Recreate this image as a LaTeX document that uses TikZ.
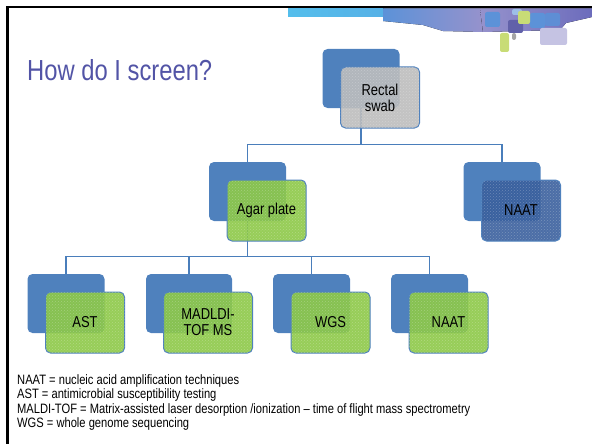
\documentclass[tikz,border=0pt]{standalone}
\usepackage{fontspec}
\setmainfont[FakeStretch=0.82]{Liberation Sans}
\usetikzlibrary{patterns,positioning}
\definecolor{cBk}{RGB}{79,129,189}
\definecolor{cLn}{RGB}{74,126,187}
\definecolor{cGr}{RGB}{140,200,70}
\definecolor{cGy}{RGB}{188,188,188}
\definecolor{cDk}{RGB}{56,94,156}
\definecolor{cTi}{RGB}{82,84,166}
\definecolor{cCy}{RGB}{84,190,236}
\definecolor{cBa}{RGB}{92,146,216}
\definecolor{cBb}{RGB}{150,146,204}
\definecolor{cBc}{RGB}{108,108,188}
\definecolor{cLm}{RGB}{200,220,118}
\tikzset{
  bk/.style={fill=cBk, rounded corners=5pt, minimum width=77pt, minimum height=59pt, inner sep=0pt},
  fr/.style={draw=cBk, line width=1pt, rounded corners=5pt, minimum width=79pt, minimum height=61pt, inner sep=0pt,
    align=center, fill opacity=0.9, text opacity=1, font=\fontsize{15.8}{16}\selectfont,
    postaction={pattern=crosshatch dots, pattern color=white, fill opacity=0.25}},
  ln/.style={draw=cLn, line width=1.3pt},
  key/.style={anchor=north west, inner sep=0pt, align=left, font=\fontsize{13.6}{14.4}\selectfont}
}

\begin{document}
\begin{tikzpicture}[x=1pt, y=-1pt]
  \useasboundingbox (0,0) rectangle (592,444);
  % header band
  \fill[left color=cCy, right color=cCy!70!cBa] (288,8.5) rectangle (384,17);
  \fill[left color=cBa, right color=cBb] (383,8.5) -- (480,8.5) -- (483,32) -- (443,31) -- (423,25) -- (383,21) -- cycle;
  \fill[left color=cBb, right color=cBc] (480,8.5) -- (592,8.5) -- (592,17) -- (566,23) -- (560,30) -- (483,32) -- cycle;
  \foreach \xa/\ya/\xb/\yb/\c in {485/12/500/27/cBa, 512/9/522/15/cBa!60, 530/13/545/28/cBa, 545/13/560/26/cBa!90!cBc,
      508/20/523/33/cBc!90!black, 518/11/530/24/cLm, 540/28/567/45/cBb!55,
      500/33/509/52/cLm, 512/33/516/40/gray!70}
    \fill[\c, rounded corners=2pt] (\xa,\ya) rectangle (\xb,\yb);
  \node[font=\fontsize{29}{30}\selectfont, text=cTi, anchor=base west, inner sep=0pt] (title) at (27,81) {How do I screen?};

  \node[bk] (swabbk) at (361,78.5) {};
  \node[bk] (agarbk) at (247.5,191.5) {};
  \node[bk] (naattbk) at (502,191.5) {};
  \foreach \n/\x/\w in {ast/66/77, maldi/189/86, wgs/311.5/77, naat/429.5/77}
    \node[bk, minimum width=\w pt] (\n bk) at (\x,303.5) {};

  \draw[ln] (swabbk.south) -- ++(0,36) coordinate (bus1) -| (agarbk.north);
  \draw[ln] (bus1) -| (naattbk.north);
  \draw[ln] (agarbk.south) -- ++(0,35) coordinate (bus2);
  \foreach \n in {ast,maldi,wgs,naat}
    \draw[ln] (bus2) -| (\n bk.north);

  \node[fr, fill=cGy] (swab) at ([shift={(19,19)}]swabbk) {Rectal\\swab};
  \node[fr, fill=cGr] (agar) at ([shift={(19,19)}]agarbk) {Agar plate};
  \node[fr, fill=cDk] (naatt) at ([shift={(19,19)}]naattbk) {NAAT};
  \foreach \n/\w/\t in {ast/79/AST, maldi/89/{MADLDI-\\TOF MS}, wgs/79/WGS, naat/79/NAAT}
    \node[fr, fill=cGr, minimum width=\w pt] (\n) at ([shift={(19,19)}]\n bk) {\t};

  \node[key] (legend) at (17,374.5) {NAAT = nucleic acid amplification techniques\\
    AST = antimicrobial susceptibility testing\\
    MALDI-TOF = Matrix-assisted laser desorption /ionization – time of flight mass spectrometry\\
    WGS = whole genome sequencing};

  % slide frame
  \fill[black] (6,6.5) rectangle (8.5,444);
  \fill[black] (6,6.5) rectangle (592,8.5);
\end{tikzpicture}
\end{document}
